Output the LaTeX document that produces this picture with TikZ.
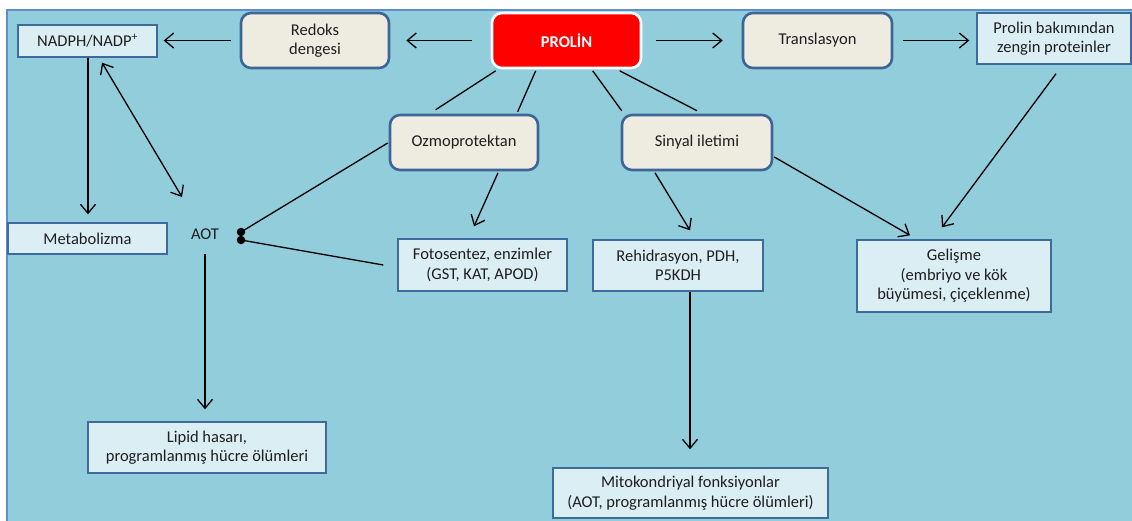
\documentclass[tikz,border=0pt]{standalone}
\usepackage{fontspec}
\setmainfont{Carlito}
\usetikzlibrary{arrows.meta,calc}
\definecolor{bgaqua}{HTML}{92CDDC}
\definecolor{bgedge}{HTML}{5E8FCB}
\definecolor{lightfill}{HTML}{DBEEF4}
\definecolor{boxedge}{HTML}{3F6A9C}
\definecolor{creamfill}{HTML}{EEECE1}
\definecolor{roundedge}{HTML}{3D6696}
\definecolor{txt}{HTML}{1E1E1E}
\begin{document}
\begin{tikzpicture}[x=1pt,y=-1pt,
  every node/.style={font=\fontsize{16.5}{19.5}\selectfont, text=txt, align=center, inner sep=0pt},
  plain/.style={draw=boxedge, fill=lightfill, line width=1.4pt},
  hub/.style={draw=roundedge, fill=creamfill, line width=2.6pt, rounded corners=10pt},
  core/.style={draw=white, fill=red, line width=2.6pt, rounded corners=10pt, text=white, font=\fontsize{16.5}{19.5}\selectfont\bfseries},
  link/.style={line width=1.3pt, black},
  arr/.style={link, -{Straight Barb[length=9pt,width=15pt,line width=1.3pt]}},
  biarr/.style={link, {Straight Barb[length=9pt,width=15pt,line width=1.3pt]}-{Straight Barb[length=9pt,width=15pt,line width=1.3pt]}},
  dot/.style={circle, fill=black, minimum size=8.5pt, inner sep=0pt}]
\useasboundingbox (0,0) rectangle (1132,520);
% panel background
\begin{scope}
  \clip (0,0) rectangle (1132,520);
  \draw[fill=bgaqua, draw=bgedge, line width=1.5pt] (7,10) rectangle (1145,535);
\end{scope}

% top row
\node[plain, minimum width=139pt, minimum height=32pt] (nadph) at (87.5,41) {NADPH/NADP\textsuperscript{+}};
\node[hub, minimum width=148pt, minimum height=55pt] (redoks) at (315,40.5) {Redoks\\dengesi};
\node[core, minimum width=149pt, minimum height=55pt] (prolin) at (566.5,40.5) {PROLİN};
\node[hub, minimum width=149pt, minimum height=55pt] (transl) at (817.5,40.5) {Translasyon};
\node[plain, minimum width=154pt, minimum height=51pt] (zengin) at (1054,38.5) {Prolin bakımından\\zengin proteinler};

% second row
\node[hub, minimum width=148pt, minimum height=55pt] (ozmo) at (464,142.5) {Ozmoprotektan};
\node[hub, minimum width=150pt, minimum height=55pt] (sinyal) at (697,142.5) {Sinyal iletimi};

% third row
\node[plain, minimum width=159pt, minimum height=31pt] (metab) at (87.5,238.5) {Metabolizma};
\node (aot) at (205,234) {AOT};
\node[dot] (d1) at (241,232) {};
\node[dot] (d2) at (241,240) {};
\node[plain, minimum width=169pt, minimum height=52pt] (foto) at (482.5,265) {Fotosentez, enzimler\\(GST, KAT, APOD)};
\node[plain, minimum width=170pt, minimum height=51pt] (rehid) at (678,265.5) {Rehidrasyon, PDH,\\P5KDH};
\node[plain, minimum width=194pt, minimum height=72pt] (gelis) at (954,276) {Gelişme\\ (embriyo ve kök\\büyümesi, çiçeklenme)};

% bottom row
\node[plain, minimum width=238pt, minimum height=51pt] (lipid) at (207,447.5) {Lipid hasarı,\\programlanmış hücre ölümleri};
\node[plain, minimum width=275pt, minimum height=50pt] (mito) at (690.5,493) {Mitokondriyal fonksiyonlar\\(AOT, programlanmış hücre ölümleri)};

% horizontal arrows of the top row
\draw[arr, shorten <=9pt, shorten >=6pt] (redoks.west) -- (redoks.west -| nadph.east);
\draw[arr, shorten <=19pt, shorten >=16pt] (prolin.west) -- (redoks.east);
\draw[arr, shorten <=14pt, shorten >=19pt] (prolin.east) -- (transl.west);
\draw[arr, shorten <=10pt, shorten >=7pt] (transl.east) -- (transl.east -| zengin.west);

% NADPH branch
\draw[arr, shorten >=8pt] ($(nadph.south)+(0.5,0)$) -- ($(metab.north)+(0.5,0)$);
\draw[biarr] ($(nadph.south)+(14.5,5)$) -- ($(aot)+(-23,-37)$);

% PROLIN to its two functions
\draw[link] ($(prolin.south west)+(5,1.5)$) -- ($(ozmo.north west)+(47,-4)$);
\draw[link] ($(prolin.south west)+(45,1.5)$) -- ($(ozmo.north west)+(129,-2)$);
\draw[link] ($(prolin.south west)+(102,1.5)$) -- ($(sinyal.north west)+(1,-3)$);
\draw[link] ($(prolin.south west)+(129,1.5)$) -- ($(sinyal.north)+(0,-3)$);

% lower arrows
\draw[arr] ($(ozmo.south)+(34,1.5)$) -- ($(foto.north)+(-8.5,-12)$);
\draw[arr] ($(sinyal.south)+(-42,1.5)$) -- ($(rehid.north)+(12,-9)$);
\draw[arr] ($(sinyal.east)+(1,14.5)$) -- ($(gelis.north)+(-44,-4)$);
\draw[arr] ($(zengin.south)+(2,9)$) -- ($(gelis.north)+(-12,-12)$);

% links into the AOT junction
\draw[link] ($(ozmo.west)+(-1,0.5)$) -- (d1.center);
\draw[link] ($(foto.west)+(-14,0)$) -- (d2.center);

% downward arrows
\draw[arr] ($(aot)+(0,20)$) -- ($(lipid.north)+(-2,-12)$);
\draw[arr] ($(rehid.south)+(12,0)$) -- ($(mito.north)+(-0.5,-18)$);
\end{tikzpicture}
\end{document}
